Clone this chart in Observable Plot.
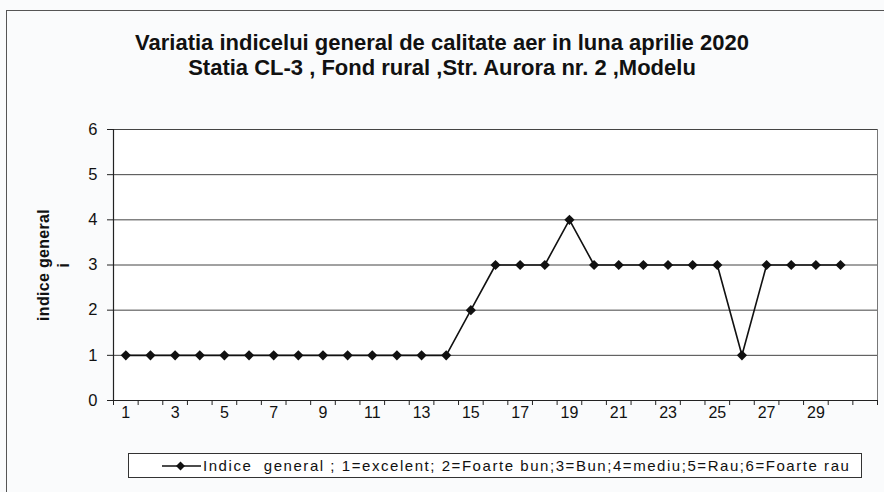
<!DOCTYPE html>
<html>
<head>
<meta charset="utf-8">
<script src="https://cdn.jsdelivr.net/npm/d3@7"></script>
<script src="https://cdn.jsdelivr.net/npm/@observablehq/plot@0.6"></script>
<style>
  html, body { margin: 0; padding: 0; background: #fafbfc; }
  #wrap { position: relative; width: 884px; height: 492px; overflow: hidden; font-family: "Liberation Sans", Arial, sans-serif; }
  #frame { position: absolute; left: 6px; top: 10px; width: 900px; height: 500px; border-left: 1px solid #555; border-top: 1px solid #555; }
  #title { position: absolute; left: 0; width: 884px; top: 30px; text-align: center; font-weight: bold; font-size: 22px; line-height: 25px; color: #111; }
  #ylab { position: absolute; left: 54px; top: 265px; transform: translate(-50%, -50%) rotate(-90deg); text-align: center; font-weight: bold; font-size: 16px; line-height: 20px; letter-spacing: 0.3px; color: #111; white-space: nowrap; }
  #legend { position: absolute; left: 128px; top: 453px; width: 734px; height: 25px; border: 1px solid #333; box-sizing: border-box; background: #fff; display: flex; align-items: center; font-size: 15px; letter-spacing: 1.55px; color: #111; white-space: pre; }
  #legend svg { margin-left: 33px; margin-right: 2px; }
  #chart { position: absolute; left: 0; top: 0; }
</style>
</head>
<body>
<div id="wrap">
  <div id="frame"></div>
  <div id="chart"></div>
  <div id="title">Variatia indicelui general de calitate aer in luna aprilie 2020<br>Statia CL-3 , Fond rural ,Str. Aurora nr. 2 ,Modelu</div>
  <div id="ylab">indice general<br>i</div>
  <div id="legend"><svg width="39" height="12"><line x1="0" y1="6" x2="39" y2="6" stroke="#111" stroke-width="1.5"/><path d="M14,6 L18.5,1.5 L23,6 L18.5,10.5 Z" fill="#111"/></svg><span id="legtext"></span></div>
</div>
<script>
const days = d3.range(1, 31);
const values = [1,1,1,1,1,1,1,1,1,1,1,1,1,1,2,3,3,3,4,3,3,3,3,3,3,1,3,3,3,3];
const xTickLabels = [1,3,5,7,9,11,13,15,17,19,21,23,25,27,29];
const yTicks = [0,1,2,3,4,5,6];
const categoryCount = 31;
const legendLabel = "Indice  general ; 1=excelent; 2=Foarte bun;3=Bun;4=mediu;5=Rau;6=Foarte rau";

document.getElementById("legtext").textContent = legendLabel;

const data = days.map((d, i) => ({day: d, value: values[i]}));
const boundaries = d3.range(0, categoryCount + 1).map(i => i + 0.5);

const chart = Plot.plot({
  width: 884,
  height: 492,
  marginLeft: 113,
  marginRight: 7,
  marginTop: 129,
  marginBottom: 92,
  style: {background: "transparent", fontFamily: "Liberation Sans, Arial, sans-serif", color: "#111"},
  x: {domain: [0.5, categoryCount + 0.5]},
  y: {domain: [0, 6]},
  marks: [
    Plot.frame({fill: "#fff", stroke: "none"}),
    Plot.ruleY(yTicks.filter(v => v > 0), {stroke: "#444", strokeWidth: 1}),
    Plot.ruleX([categoryCount + 0.5], {stroke: "#777", strokeWidth: 1}),
    Plot.ruleY([0], {stroke: "#222", strokeWidth: 1.2}),
    Plot.ruleX([0.5], {stroke: "#222", strokeWidth: 1.2}),
    Plot.axisY({ticks: yTicks, tickSize: 6, tickPadding: 10, fontSize: 16.5, tickFormat: d3.format("d"), label: null, stroke: "#222"}),
    Plot.axisX({ticks: boundaries, tickSize: 5, tickFormat: () => "", label: null, stroke: "#222"}),
    Plot.axisX({ticks: xTickLabels, tickSize: 0, tickPadding: 6, fontSize: 16, label: null}),
    Plot.line(data, {x: "day", y: "value", stroke: "#111", strokeWidth: 1.6}),
    Plot.dot(data, {x: "day", y: "value", symbol: "diamond2", r: 4.6, fill: "#111", stroke: "none"})
  ]
});
document.getElementById("chart").appendChild(chart);
</script>
</body>
</html>
